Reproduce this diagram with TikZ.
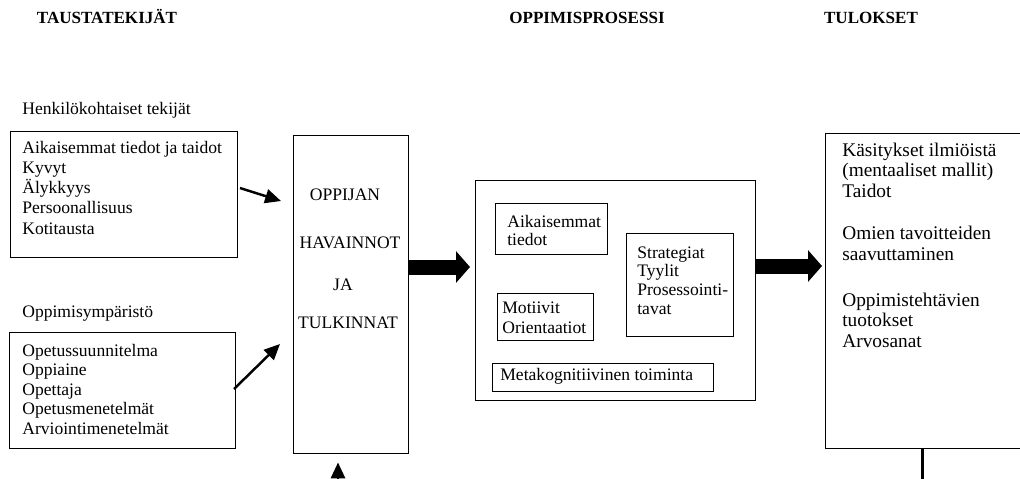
\documentclass[tikz,border=0pt]{standalone}
\usepackage{fontspec}
\setmainfont{Liberation Serif}
\usetikzlibrary{arrows.meta,fit}

\begin{document}
\begin{tikzpicture}[x=0.02cm, y=-0.02cm]

	\tikzstyle{box} = [draw, line width=0.5pt, inner sep=0pt];
	% multi-line texts are placed by the baseline of their last line
	\tikzstyle{txt} = [anchor=base west, inner sep=0pt, align=left, font=\fontsize{10}{11.5}\selectfont];
	\tikzstyle{smalltxt} = [txt, font=\fontsize{10}{10.6}\selectfont];
	\tikzstyle{bigtxt} = [txt, font=\fontsize{11}{11.4}\selectfont];
	\tikzstyle{caps} = [anchor=base, inner sep=0pt, font=\fontsize{10}{12}\selectfont];
	\tikzstyle{head} = [caps, font=\fontsize{9.7}{12}\selectfont\bfseries];
	\tikzstyle{thinarrow} = [line width=1.4pt, -{Triangle[length=9pt, width=8pt]}];
	\tikzstyle{fatarrow} = [line width=0.3cm, -{Triangle[length=0.28cm, width=0.62cm]}];

	\useasboundingbox (0,0) rectangle (1020,478);
	\clip (0,0) rectangle (1020,478);

	% column headings
	\node[head] (hback) at (107,23) {TAUSTATEKIJÄT};
	\node[head] (hproc) at (587,23) {OPPIMISPROSESSI};
	\node[head] (hres) at (871,23) {TULOKSET};

	% background factors
	\node[txt] (perslabel) at (22,114) {Henkilökohtaiset tekijät};
	\node[box, fit={(10,131) (237,257)}] (persbox) {};
	\node[txt] (perstxt) at (22,234) {Aikaisemmat tiedot ja taidot\\Kyvyt\\Älykkyys\\Persoonallisuus\\Kotitausta};

	\node[txt] (envlabel) at (22,317) {Oppimisympäristö};
	\node[box, fit={(9,332) (235,448)}] (envbox) {};
	\node[txt, font=\fontsize{10}{11.1}\selectfont] (envtxt) at (22,434) {Opetussuunnitelma\\Oppiaine\\Opettaja\\Opetusmenetelmät\\Arviointimenetelmät};

	% learner
	\node[box, fit={(293,135) (408,453)}] (learner) {};
	\node[caps] (l1) at (345,200) {OPPIJAN};
	\node[caps] (l2) at (350,248) {HAVAINNOT};
	\node[caps] (l3) at (343,290) {JA};
	\node[caps] (l4) at (348,328) {TULKINNAT};

	% learning process
	\node[box, fit={(475,180) (755,400)}] (process) {};
	\node[box, fit={(495,203) (607,254)}] (priorbox) {};
	\node[smalltxt, font=\fontsize{10}{10.2}\selectfont] (priortxt) at (507,245) {Aikaisemmat\\tiedot};
	\node[box, fit={(626,233) (733,336)}] (stratbox) {};
	\node[smalltxt] (strattxt) at (637,314) {Strategiat\\Tyylit\\Prosessointi-\\tavat};
	\node[box, fit={(497,293) (593,340)}] (motivbox) {};
	\node[txt, font=\fontsize{10}{11.3}\selectfont] (motivtxt) at (502,333) {Motiivit\\Orientaatiot};
	\node[box, fit={(492,363) (713,391)}] (metabox) {};
	\node[txt] (metatxt) at (500,380) {Metakognitiivinen toiminta};

	% outcomes
	\node[box, fit={(825,133) (1040,448)}] (results) {};
	\node[bigtxt] (res1) at (842,197) {Käsitykset ilmiöistä\\(mentaaliset mallit)\\Taidot};
	\node[bigtxt] (res2) at (842,260) {Omien tavoitteiden\\saavuttaminen};
	\node[bigtxt] (res3) at (842,347) {Oppimistehtävien\\tuotokset\\Arvosanat};

	% connectors
	\coordinate (p1) at (240,188);
	\coordinate (p2) at (281,201);
	\coordinate (e1) at (234,389);
	\coordinate (e2) at (280,344);
	\coordinate (fa) at (470,267);
	\coordinate (fb) at (822,266);
	\coordinate (below) at (338,500);
	\coordinate (out) at (922,490);

	\draw[thinarrow] (p1) -- (p2);
	\draw[thinarrow] (e1) -- (e2);
	\draw[thinarrow, shorten >=0.18cm] (below) -- (below |- learner.south);
	\draw[fatarrow] (learner.east |- fa) -- (fa);
	\draw[fatarrow] (process.east |- fb) -- (fb);
	\draw[line width=1.7pt] (results.south west -| out) -- (out);

\end{tikzpicture}
\end{document}
